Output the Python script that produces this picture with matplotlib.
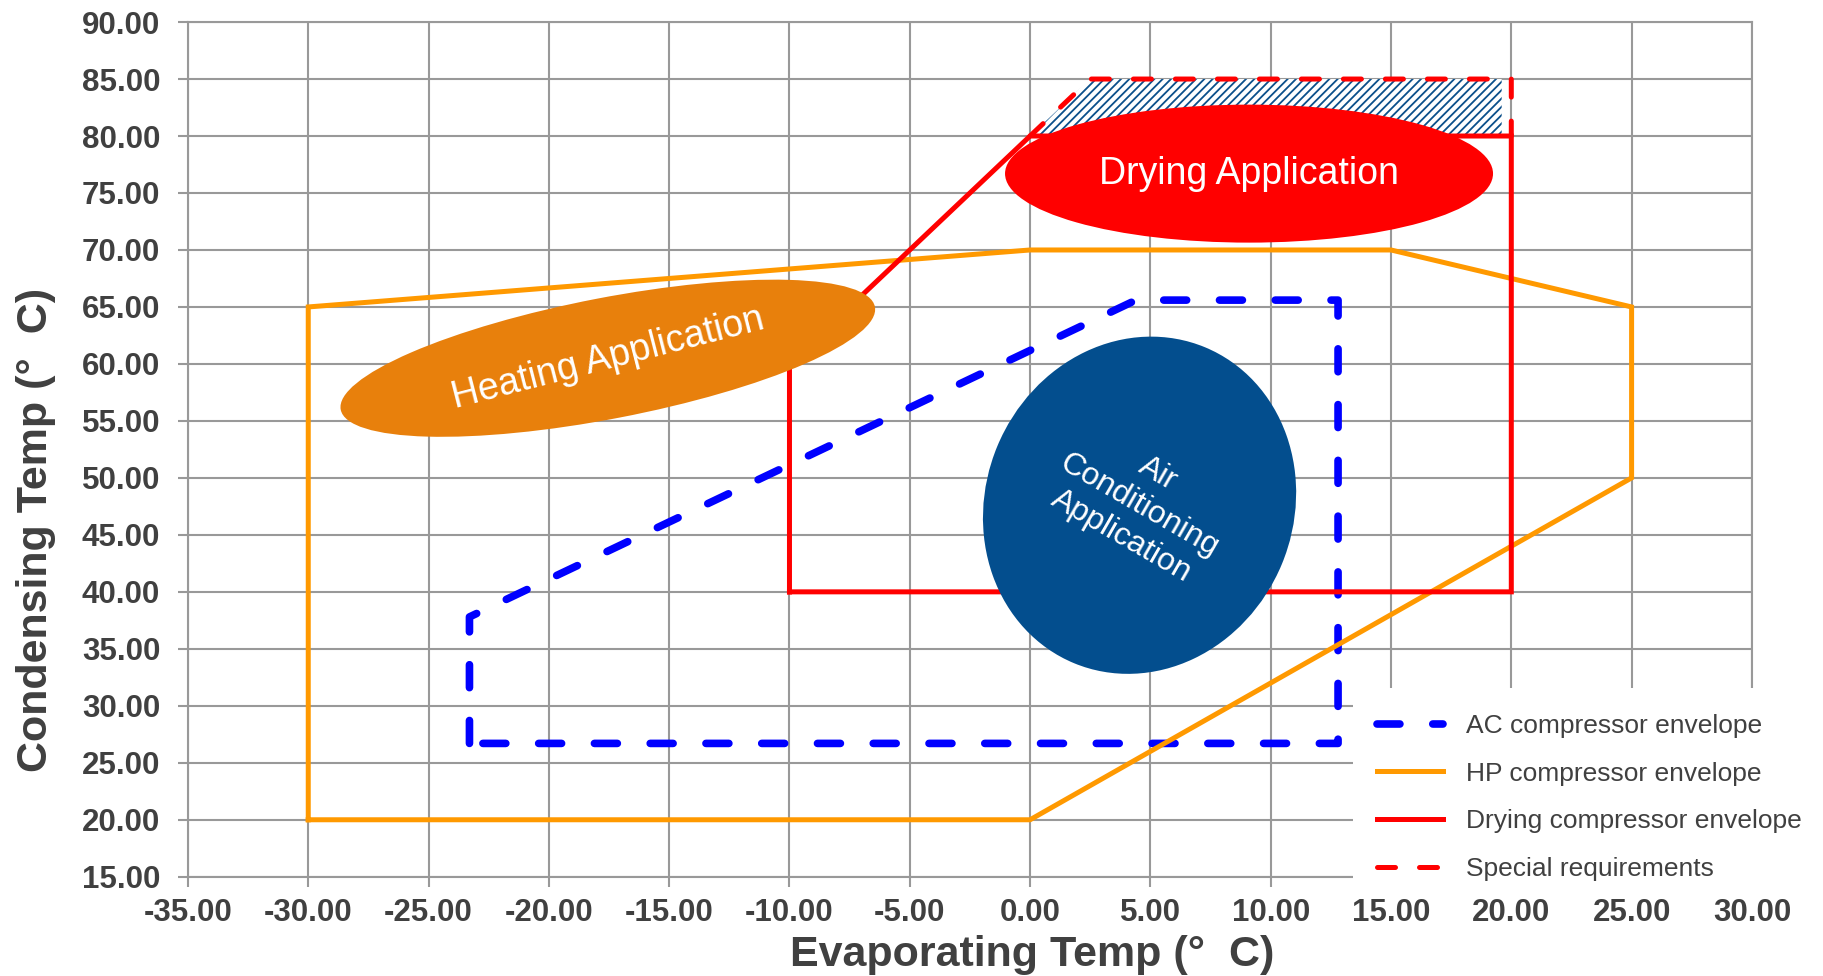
import numpy as np
import matplotlib
matplotlib.use('Agg')
import matplotlib.pyplot as plt
from matplotlib.patches import Ellipse, Polygon, Rectangle
from matplotlib.transforms import ScaledTranslation

plt.rcParams['font.family'] = ['Liberation Sans', 'DejaVu Sans']
plt.rcParams['hatch.linewidth'] = 1.3

# compressor envelopes: evaporating temp (x) / condensing temp (y)
ac_evap = [-23.3, -23.3, 4.4, 12.8, 12.8, -23.3]
ac_cond = [26.7, 37.8, 65.6, 65.6, 26.7, 26.7]

hp_evap = [-30, -30, 0, 15, 25, 25, 0, -30]
hp_cond = [20, 65, 70, 70, 65, 50, 20, 20]

dry_evap = [-10, 20, 20, 0, -10, -10]
dry_cond = [40, 40, 80, 80, 60, 40]

special_evap = [0, 2.5, 20, 20]
special_cond = [80, 85, 85, 80]

hatch_evap = [0, 2.5, 19.6, 19.6]
hatch_cond = [80, 85, 85, 80]

x_ticks = np.arange(-35, 31, 5)
y_ticks = np.arange(15, 91, 5)

# application bubbles (label, centre in data coords)
app_labels = ['Drying Application', 'Heating Application',
              'Air\nConditioning\nApplication']
app_evap = [9.1, -17.55, 4.55]
app_cond = [76.7, 60.5, 47.6]

grey = '#999999'
txt = '#404040'

fig = plt.figure(figsize=(18.23, 9.76), dpi=100)
ax = fig.add_axes([0.1031, 0.1017, 0.8579, 0.8757])
ax.set_xlim(-35, 30)
ax.set_ylim(15, 90)

ax.grid(True, color=grey, lw=1.5)
ax.set_axisbelow(True)
for s in ax.spines.values():
    s.set_color(grey)
    s.set_linewidth(1.5)

ax.set_xticks(x_ticks, labels=['%.2f' % v for v in x_ticks], fontweight='bold')
ax.set_yticks(y_ticks, labels=['%.2f' % v for v in y_ticks], fontweight='bold')
ax.tick_params(axis='both', direction='out', length=7, width=1.5, color=grey,
               labelsize=22.5, labelcolor=txt)
ax.tick_params(axis='x', pad=8)
ax.tick_params(axis='y', pad=13)

# hatched special area
ax.add_patch(Polygon(np.column_stack([hatch_evap, hatch_cond]), closed=True,
                     facecolor='white', edgecolor='#0B4F8A', lw=0,
                     hatch='////', zorder=1.5))

l_ac, = ax.plot(ac_evap, ac_cond, color='#0000FF', lw=5.5, ls=(0, (3.0, 4.3)),
                dash_capstyle='round', label='AC compressor envelope', zorder=2)
l_hp, = ax.plot(hp_evap, hp_cond, color='#FF9900', lw=3.6,
                solid_joinstyle='miter', label='HP compressor envelope', zorder=2)
l_dry, = ax.plot(dry_evap, dry_cond, color='#FF0000', lw=3.6,
                 solid_joinstyle='miter', label='Drying compressor envelope', zorder=2)
l_sp, = ax.plot(special_evap, special_cond, color='#FF0000', lw=3.6,
                ls=(0, (3.6, 4.8)), dash_capstyle='round',
                label='Special requirements', zorder=2)

# bubbles: size in inches, angle in screen degrees
bubble_w = [4.88, 5.44, 3.42]
bubble_h = [1.38, 1.21, 3.08]
bubble_ang = [0, 10.9, 67.5]
bubble_col = ['#FF0000', '#E8800C', '#034E8E']
text_rot = [0, 14.4, -30]
text_size = [27, 27, 23]

for i in range(len(app_labels)):
    tr = fig.dpi_scale_trans + ScaledTranslation(app_evap[i], app_cond[i], ax.transData)
    ax.add_patch(Ellipse((0, 0), bubble_w[i], bubble_h[i], angle=bubble_ang[i],
                         transform=tr, facecolor=bubble_col[i], edgecolor='none',
                         zorder=3))
    ax.text(app_evap[i], app_cond[i], app_labels[i], color='white',
            fontsize=text_size[i], rotation=text_rot[i], ha='center', va='center',
            multialignment='center', rotation_mode='anchor', linespacing=1.25,
            zorder=4)

ax.set_xlabel('Evaporating Temp (°  C)', fontsize=31, fontweight='bold', color=txt)
ax.xaxis.set_label_coords(0.54, -0.068)
ax.set_ylabel('Condensing Temp (°  C)', fontsize=31, fontweight='bold', color=txt)
ax.yaxis.set_label_coords(-0.0844, 0.406)

# white box behind the legend (hides grid in the lower right corner)
ax.add_patch(Rectangle((1353 / 1823, 1 - 895 / 976), 470 / 1823, 207 / 976,
                       transform=fig.transFigure, facecolor='white',
                       edgecolor='none', clip_on=False, zorder=9))

leg = ax.legend(handles=[l_ac, l_hp, l_dry, l_sp], loc='upper left',
                bbox_to_anchor=(1353 / 1823, 1 - 690 / 976),
                bbox_transform=fig.transFigure, fontsize=19, labelcolor=txt,
                frameon=False, borderpad=0.9, labelspacing=0.9,
                handlelength=2.5, handletextpad=0.87, borderaxespad=0)
leg.set_zorder(10)

fig.savefig('out.png', dpi=100)
